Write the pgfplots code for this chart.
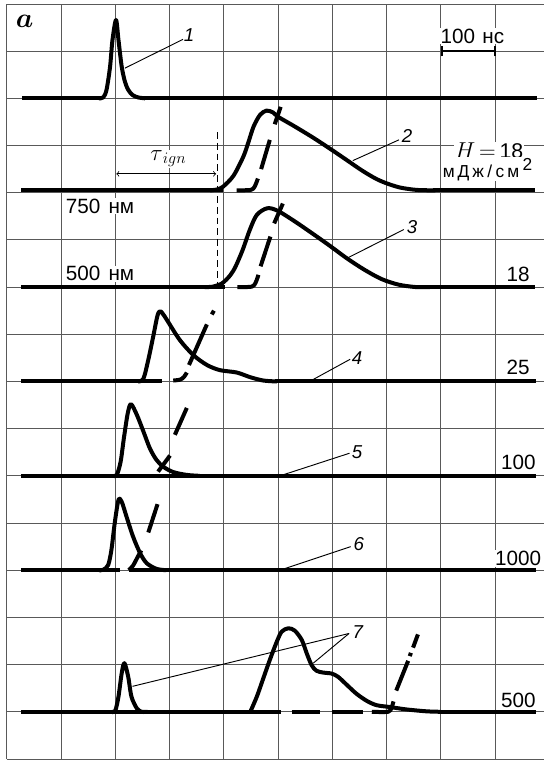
\documentclass[border=0pt]{standalone}
\usepackage{fontspec}
\setmainfont{Liberation Sans}
\usepackage{bm}
\usepackage{pgfplots}
\pgfplotsset{compat=1.18}
\tikzset{
  tr/.style={black, line width=3pt, line join=round, line cap=butt},
  trs/.style={tr, smooth},
  lab/.style={fill=white, inner sep=0.6pt, font=\fontsize{15.5}{18}\selectfont},
  num/.style={fill=white, inner sep=0.6pt, font=\fontsize{14}{16}\selectfont\itshape},
  lead/.style={black, line width=0.7pt},
}
\begin{document}
\begin{tikzpicture}
\useasboundingbox (-5.03pt,-1.5pt) rectangle (402.97pt,569.25pt);
\begin{axis}[
  at={(0,0)}, anchor=south west,
  x=40.6875pt, y=35.3925pt,
  xmin=0, xmax=9.91, ymin=0, ymax=16,
  xtick={0,...,9}, ytick={0,...,16},
  xticklabels={}, yticklabels={},
  major tick length=0pt,
  grid=major,
  major grid style={black!65, line width=0.65pt},
  axis line style={draw=none},
  clip=true,
]
% ---------- labels (white boxes over grid) ----------
\node[anchor=center, inner sep=0pt] at (axis cs:0.33,15.64) {\fontsize{21}{23}\selectfont$\bm{a}$};
\node[lab, anchor=base west] at (axis cs:7.98,15.17) {100\hspace{0.35em}нс};
\node[lab, anchor=base west] at (axis cs:8.24,12.73) {\fontsize{16}{18}\selectfont$H\,{=}\,$18};
\node[lab, anchor=base west] at (axis cs:8.02,12.33) {\fontsize{13}{15}\selectfont м\kern2.2ptД\kern2.2ptж\kern2.6pt/\kern2.6ptс\kern2.2ptм\kern2.5pt\raisebox{0.75ex}{2}};
\node[lab, anchor=base west] at (axis cs:1.07,11.56) {750\hspace{0.4em}нм};
\node[lab, anchor=base west] at (axis cs:1.07,10.13) {500\hspace{0.4em}нм};
\node[anchor=center, inner sep=0.5pt, fill=white] at (axis cs:2.98,12.72) {\fontsize{18}{20}\selectfont$\tau_{\,ign}$};
\node[lab, anchor=base east] at (axis cs:9.66,10.12) {18};
\node[lab, anchor=base east] at (axis cs:9.66,8.15) {25};
\node[lab, anchor=base east] at (axis cs:9.77,6.13) {100};
\node[lab, anchor=base east] at (axis cs:9.87,4.10) {1000};
\node[lab, anchor=base east] at (axis cs:9.77,1.09) {500};
\node[num] at (axis cs:3.36,15.34) {1};
\node[num] at (axis cs:7.38,13.20) {2};
\node[num] at (axis cs:7.47,11.28) {3};
\node[num] at (axis cs:6.46,8.50) {4};
\node[num] at (axis cs:6.46,6.51) {5};
\node[num] at (axis cs:6.49,4.55) {6};
\node[num] at (axis cs:6.47,2.68) {7};
% ---------- leader lines, scale bar, tau ----------
\draw[lead] (axis cs:3.25,15.25) -- (axis cs:2.18,14.64);
\draw[lead] (axis cs:7.23,13.12) -- (axis cs:6.38,12.68);
\draw[lead] (axis cs:7.32,11.22) -- (axis cs:6.27,10.61);
\draw[lead] (axis cs:6.33,8.47) -- (axis cs:5.63,8.03);
\draw[lead] (axis cs:6.32,6.48) -- (axis cs:5.09,6.02);
\draw[lead] (axis cs:6.34,4.50) -- (axis cs:5.09,4.02);
\draw[lead] (axis cs:6.31,2.66) -- (axis cs:2.32,1.54);
\draw[lead] (axis cs:6.31,2.66) -- (axis cs:5.65,2.03);
\draw[black, line width=1.8pt] (axis cs:8.02,15) -- (axis cs:9.0,15);
\draw[black, line width=1.8pt] (axis cs:8.02,14.89) -- (axis cs:8.02,15.11);
\draw[black, line width=1.8pt] (axis cs:9.0,14.89) -- (axis cs:9.0,15.11);
\draw[<->, black, line width=0.6pt] (axis cs:2.02,12.40) -- (axis cs:3.86,12.40);
\draw[black, line width=0.8pt, dash pattern=on 5pt off 3pt] (axis cs:3.89,13.28) -- (axis cs:3.89,10.0);
% ---------- trace 1 ----------
\addplot[tr] coordinates {(0.29,14) (1.75,14)};
\addplot[tr] coordinates {(2.5,14) (9.77,14)};
\addplot[trs] coordinates {(1.70,14) (1.78,14.02) (1.84,14.18) (1.905,14.67) (1.95,15.24) (2.015,15.66) (2.06,15.24) (2.12,14.67) (2.18,14.35) (2.24,14.18) (2.32,14.07) (2.42,14.02) (2.55,14)};
% ---------- trace 2 ----------
\addplot[tr] coordinates {(0.27,12.05) (3.80,12.05)};
\addplot[trs] coordinates {(3.75,12.05) (3.88,12.07) (3.99,12.13) (4.18,12.36) (4.36,12.76) (4.45,13.05) (4.55,13.40) (4.67,13.65) (4.79,13.74) (4.91,13.70) (5.0,13.61) (5.3,13.41) (5.63,13.18) (5.95,12.94) (6.27,12.69) (6.55,12.47) (6.8,12.30) (7.0,12.20) (7.25,12.11) (7.55,12.06) (7.9,12.05)};
\addplot[tr] coordinates {(7.85,12.05) (9.73,12.05)};
\addplot[tr] coordinates {(3.50,12.05) (3.98,12.05)};
\addplot[trs] coordinates {(4.24,12.05) (4.50,12.06) (4.57,12.13) (4.63,12.30)};
\addplot[tr] coordinates {(4.69,12.50) (4.85,13.12)};
\addplot[tr] coordinates {(4.94,13.45) (5.05,13.82)};
% ---------- trace 3 ----------
\addplot[tr] coordinates {(0.27,10) (3.72,10)};
\addplot[trs] coordinates {(3.65,10) (3.80,10.01) (3.97,10.08) (4.12,10.25) (4.22,10.44) (4.35,10.79) (4.48,11.21) (4.61,11.53) (4.80,11.67) (4.99,11.62) (5.3,11.40) (5.63,11.14) (5.95,10.88) (6.27,10.61) (6.59,10.37) (6.91,10.17) (7.23,10.05) (7.55,10.0) (7.8,10.0)};
\addplot[tr] coordinates {(7.75,10) (9.73,10)};
\addplot[tr] coordinates {(3.52,10) (4.03,10)};
\addplot[trs] coordinates {(4.25,10) (4.52,10.01) (4.59,10.10) (4.64,10.26)};
\addplot[tr] coordinates {(4.68,10.44) (4.86,11.07)};
\addplot[tr] coordinates {(4.93,11.35) (5.09,11.77)};
% ---------- trace 4 ----------
\addplot[tr] coordinates {(0.27,8) (2.86,8)};
\addplot[trs] coordinates {(2.42,8) (2.52,8.06) (2.61,8.46) (2.70,8.95) (2.78,9.40) (2.83,9.49) (2.88,9.43) (2.95,9.31) (3.19,8.88) (3.44,8.56) (3.69,8.35) (3.93,8.24) (4.24,8.19) (4.49,8.09) (4.73,8.02) (4.98,8.0)};
\addplot[tr] coordinates {(4.95,8) (9.75,8)};
\addplot[trs] coordinates {(3.07,8.02) (3.20,8.04) (3.27,8.10) (3.32,8.19)};
\addplot[tr] coordinates {(3.36,8.35) (3.69,9.21)};
\addplot[tr] coordinates {(3.78,9.42) (3.82,9.50)};
% ---------- trace 5 ----------
\addplot[tr] coordinates {(0.27,6) (9.75,6)};
\addplot[trs] coordinates {(1.97,6) (2.03,6.02) (2.10,6.30) (2.16,6.80) (2.23,7.32) (2.29,7.52) (2.40,7.29) (2.52,6.94) (2.64,6.58) (2.76,6.34) (2.89,6.19) (3.07,6.08) (3.32,6.02) (3.56,6.0)};
\addplot[tr] coordinates {(2.79,6.09) (3.01,6.43)};
\addplot[tr] coordinates {(3.10,6.87) (3.32,7.44)};
% ---------- trace 6 ----------
\addplot[tr] coordinates {(0.27,4) (2.09,4)};
\addplot[tr] coordinates {(2.25,4) (9.75,4)};
\addplot[trs] coordinates {(1.70,4) (1.78,4.01) (1.87,4.11) (1.93,4.43) (1.99,4.99) (2.06,5.49) (2.12,5.45) (2.21,5.13) (2.33,4.71) (2.46,4.36) (2.58,4.15) (2.76,4.03) (2.94,4.0)};
\addplot[trs] coordinates {(2.25,4.0) (2.33,4.10) (2.40,4.25) (2.48,4.42)};
\addplot[tr] coordinates {(2.61,4.80) (2.78,5.40)};
% ---------- trace 7 ----------
\addplot[tr] coordinates {(0.27,1) (5.06,1)};
\addplot[trs] coordinates {(1.93,1) (2.0,1.02) (2.06,1.32) (2.12,1.82) (2.17,2.03) (2.24,1.74) (2.30,1.32) (2.40,1.07) (2.49,1.0) (2.6,1.0)};
\addplot[trs] coordinates {(4.49,1.0) (4.61,1.32) (4.73,1.71) (4.85,2.10) (4.98,2.49) (5.07,2.70) (5.19,2.77) (5.31,2.72) (5.44,2.52) (5.53,2.24) (5.62,1.99) (5.71,1.87) (5.84,1.83) (5.99,1.81) (6.11,1.74) (6.27,1.57) (6.45,1.38) (6.64,1.23) (6.82,1.14) (7.07,1.10) (7.37,1.05) (7.74,1.01) (8.0,1.0)};
\addplot[tr] coordinates {(7.95,1) (9.75,1)};
\addplot[tr] coordinates {(5.25,1) (5.78,1)};
\addplot[tr] coordinates {(5.99,1) (6.57,1)};
\addplot[trs] coordinates {(6.73,1) (7.03,1.0) (7.09,1.08) (7.13,1.22)};
\addplot[tr] coordinates {(7.18,1.45) (7.40,2.08)};
\addplot[tr] coordinates {(7.43,2.18) (7.45,2.25)};
\addplot[tr] coordinates {(7.49,2.36) (7.58,2.64)};
\end{axis}
\end{tikzpicture}
\end{document}
